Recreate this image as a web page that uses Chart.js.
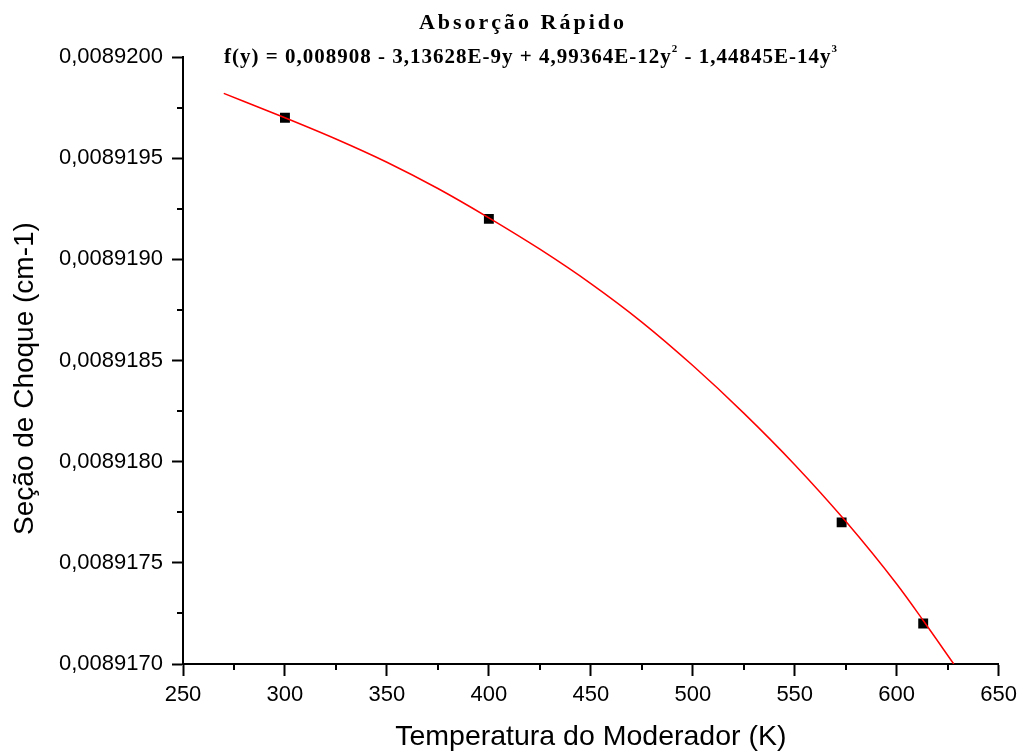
<!DOCTYPE html>
<html>
<head>
<meta charset="utf-8">
<title>Absorção Rápido</title>
<script src="https://cdn.jsdelivr.net/npm/chart.js@4.4.1/dist/chart.umd.min.js"></script>
<style>
    html, body { margin: 0; padding: 0; background: #fff; }
    #wrap { width: 1023px; height: 756px; }
</style>
</head>
<body>
<div id="wrap"><canvas id="chart" width="1023" height="756"></canvas></div>
<script>
// measured points (black squares)
const measuredTemps = [300, 400, 573, 613];
const measuredValues = [0.0089197, 0.0089192, 0.0089177, 0.0089172];

// fitted polynomial
const fitTemps = [270, 300, 325, 350, 375, 400, 425, 450, 475, 500, 525, 550, 575, 600, 613, 628];
const fitValues = [
    0.008919820, 0.008919700, 0.008919595, 0.008919480, 0.008919350, 0.008919205,
    0.008919050, 0.008918880, 0.008918690, 0.008918475, 0.008918240, 0.008917985,
    0.008917705, 0.008917395, 0.008917215, 0.008917000,
];

const xTicks = [250, 300, 350, 400, 450, 500, 550, 600, 650];
const yTicks = [0.0089170, 0.0089175, 0.0089180, 0.0089185, 0.0089190, 0.0089195, 0.0089200];

const TITLE = 'Absorção Rápido';
const FORMULA = [
    ['f(y) = 0,008908 - 3,13628E-9y + 4,99364E-12y', false],
    ['2', true],
    [' - 1,44845E-14y', false],
    ['3', true],
];
const Y_TITLE = 'Seção de Choque (cm-1)';

const SANS = '"Liberation Sans", Arial, sans-serif';
const SERIF = '"Liberation Serif", "Times New Roman", serif';

function midpoints(values) {
    return values.slice(1).map((v, i) => (values[i] + v) / 2);
}

const minorTicks = {
    id: 'minorTicks',
    afterDraw(chart) {
        const { ctx, chartArea, scales: { x, y } } = chart;

        ctx.save();
        ctx.strokeStyle = '#000';
        ctx.lineWidth = 2;
        ctx.beginPath();
        midpoints(xTicks).forEach((v) => {
            const px = Math.round(x.getPixelForValue(v));
            ctx.moveTo(px, chartArea.bottom);
            ctx.lineTo(px, chartArea.bottom + 6);
        });
        midpoints(yTicks).forEach((v) => {
            const py = Math.round(y.getPixelForValue(v));
            ctx.moveTo(chartArea.left, py);
            ctx.lineTo(chartArea.left - 6, py);
        });
        ctx.stroke();
        ctx.restore();
    },
};

const headerText = {
    id: 'headerText',
    afterDraw(chart) {
        const { ctx, chartArea } = chart;

        ctx.save();
        ctx.fillStyle = '#000';
        ctx.textBaseline = 'alphabetic';

        ctx.font = `bold 22px ${SERIF}`;
        ctx.letterSpacing = '3px';
        ctx.textAlign = 'center';
        ctx.fillText(TITLE, 523, 29);

        ctx.letterSpacing = '1px';
        ctx.textAlign = 'left';
        let x = 224;
        FORMULA.forEach(([text, sup]) => {
            ctx.font = sup ? `bold 11px ${SERIF}` : `bold 21px ${SERIF}`;
            ctx.fillText(text, x, sup ? 52 : 63);
            x += ctx.measureText(text).width;
        });

        // y axis title, drawn here so it can sit a bit below the axis centre like the original
        ctx.letterSpacing = '0px';
        ctx.font = `28px ${SANS}`;
        ctx.textAlign = 'center';
        ctx.textBaseline = 'middle';
        ctx.translate(25, (chartArea.top + chartArea.bottom) / 2 + 18);
        ctx.rotate(-Math.PI / 2);
        ctx.fillText(Y_TITLE, 0, 0);
        ctx.restore();
    },
};

new Chart(document.getElementById('chart'), {
    type: 'scatter',
    data: {
        datasets: [
            {
                label: 'Ajuste',
                type: 'line',
                data: fitTemps.map((t, i) => ({ x: t, y: fitValues[i] })),
                borderColor: '#ff0000',
                borderWidth: 1.5,
                pointRadius: 0,
                tension: 0.4,
                cubicInterpolationMode: 'monotone',
                fill: false,
            },
            {
                label: 'Seção de Choque',
                data: measuredTemps.map((t, i) => ({ x: t, y: measuredValues[i] })),
                pointStyle: 'rect',
                pointRadius: 7,
                backgroundColor: '#000',
                borderColor: '#000',
                borderWidth: 0,
            },
        ],
    },
    options: {
        responsive: false,
        animation: false,
        layout: {
            padding: { top: 57, right: 24, left: 0, bottom: 0 },
        },
        plugins: {
            legend: { display: false },
            tooltip: { enabled: false },
        },
        scales: {
            x: {
                type: 'linear',
                min: 250,
                max: 650,
                afterBuildTicks: (scale) => {
                    scale.ticks = xTicks.map((v) => ({ value: v }));
                },
                afterFit: (scale) => {
                    scale.height = 92;
                },
                border: { display: true, color: '#000', width: 2 },
                grid: {
                    drawOnChartArea: false,
                    drawTicks: true,
                    tickLength: 12,
                    tickWidth: 2,
                    tickColor: '#000',
                },
                ticks: {
                    autoSkip: false,
                    maxRotation: 0,
                    padding: 6,
                    color: '#000',
                    font: { family: SANS, size: 22 },
                },
                title: {
                    display: true,
                    text: 'Temperatura do Moderador (K)',
                    color: '#000',
                    font: { family: SANS, size: 28.5 },
                    padding: { top: 0, bottom: 2 },
                },
            },
            y: {
                type: 'linear',
                min: 0.008917,
                max: 0.00892,
                afterBuildTicks: (scale) => {
                    scale.ticks = yTicks.map((v) => ({ value: v }));
                },
                afterFit: (scale) => {
                    scale.width = 183;
                },
                border: { display: true, color: '#000', width: 2 },
                grid: {
                    drawOnChartArea: false,
                    drawTicks: true,
                    tickLength: 11,
                    tickWidth: 2,
                    tickColor: '#000',
                },
                ticks: {
                    padding: 9,
                    color: '#000',
                    font: { family: SANS, size: 22 },
                    callback: (value) => value.toFixed(7).replace('.', ','),
                },
            },
        },
    },
    plugins: [minorTicks, headerText],
});
</script>
</body>
</html>
